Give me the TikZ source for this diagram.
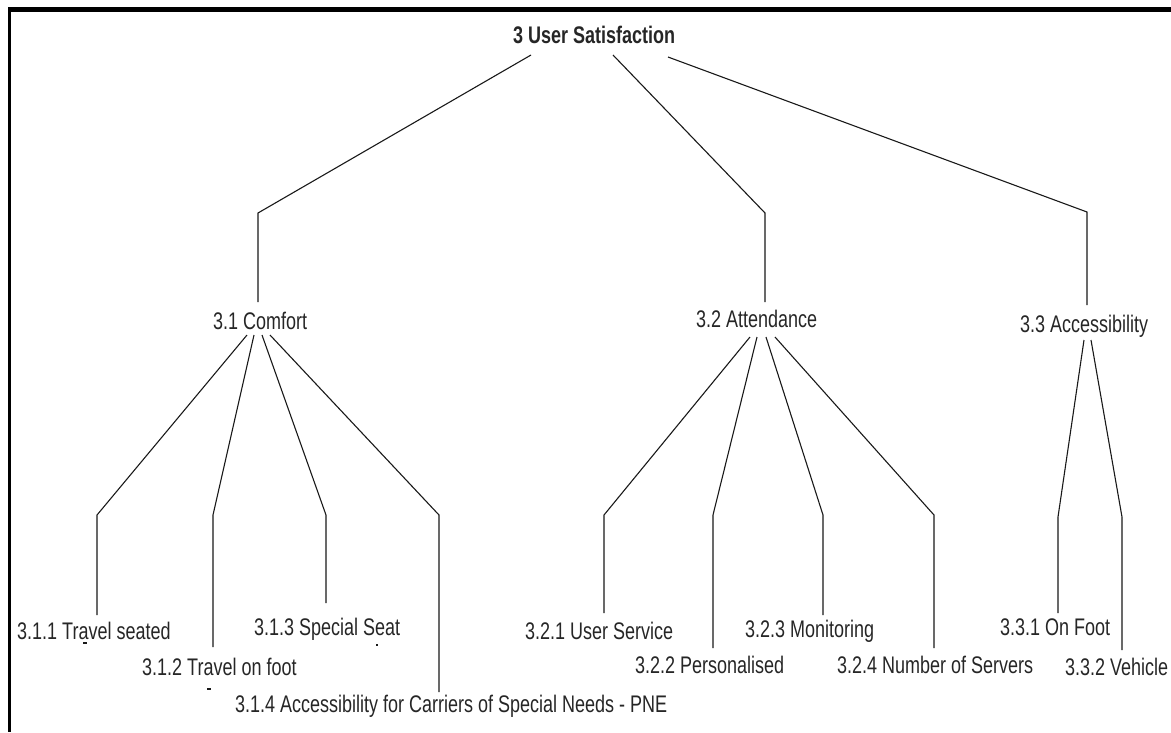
\documentclass[tikz,border=0pt]{standalone}
\usepackage{fontspec}
\setmainfont{Liberation Sans}
\begin{document}
\begin{tikzpicture}[x=1pt,y=-1pt,
  lbl/.style={inner sep=0pt, anchor=base west, xscale=0.75, font=\fontsize{24}{28}\selectfont, text=black!85},
  edge/.style={line width=1.1pt, draw=black!90},
  frame/.style={fill=black, draw=none}]
\useasboundingbox (0,0) rectangle (1171,732);
% frame
\fill[frame] (8,7) rectangle (1171,12);
\fill[frame] (8,7) rectangle (11,732);
% nodes
\node[lbl] (root) at (513,43) {\textbf{3 User Satisfaction}};
\node[lbl] (c1) at (213,329) {3.1 Comfort};
\node[lbl] (c2) at (696,327) {3.2 Attendance};
\node[lbl] (c3) at (1020,332) {3.3 Accessibility};
\node[lbl] (l11) at (17,639) {3.1.1 Travel seated};
\node[lbl] (l12) at (142,675) {3.1.2 Travel on foot};
\node[lbl] (l13) at (254,635) {3.1.3 Special Seat};
\node[lbl] (l14) at (235,712) {3.1.4 Accessibility for Carriers of Special Needs - PNE};
\node[lbl] (l21) at (525,639) {3.2.1 User Service};
\node[lbl] (l22) at (635,673) {3.2.2 Personalised};
\node[lbl] (l23) at (745,637) {3.2.3 Monitoring};
\node[lbl] (l24) at (837,673) {3.2.4 Number of Servers};
\node[lbl] (l31) at (1000,635) {3.3.1 On Foot};
\node[lbl] (l32) at (1065,675) {3.3.2 Vehicle};
% level 1 connectors
\coordinate (s1) at (531,55);  \coordinate (k1) at (258,213);  \coordinate (e1) at (258,302);
\coordinate (s2) at (613,55);  \coordinate (k2) at (765,213);  \coordinate (e2) at (765,302);
\coordinate (s3) at (668,57);  \coordinate (k3) at (1087,212); \coordinate (e3) at (1087,305);
\draw[edge] (s1) -- (k1) -- (e1);
\draw[edge] (s2) -- (k2) -- (e2);
\draw[edge] (s3) -- (k3) -- (e3);
% comfort children
\coordinate (s11) at (247,335); \coordinate (k11) at (97,515);  \coordinate (e11) at (97,615);
\coordinate (s12) at (254,335); \coordinate (k12) at (213,515); \coordinate (e12) at (213,647);
\coordinate (s13) at (262,335); \coordinate (k13) at (326,515); \coordinate (e13) at (326,603);
\coordinate (s14) at (270,335); \coordinate (k14) at (439,515); \coordinate (e14) at (439,692);
\draw[edge] (s11) -- (k11) -- (e11);
\draw[edge] (s12) -- (k12) -- (e12);
\draw[edge] (s13) -- (k13) -- (e13);
\draw[edge] (s14) -- (k14) -- (e14);
% attendance children
\coordinate (s21) at (750,337); \coordinate (k21) at (604,515); \coordinate (e21) at (604,613);
\coordinate (s22) at (757,337); \coordinate (k22) at (713,515); \coordinate (e22) at (713,648);
\coordinate (s23) at (766,337); \coordinate (k23) at (823,515); \coordinate (e23) at (823,615);
\coordinate (s24) at (775,337); \coordinate (k24) at (934,515); \coordinate (e24) at (934,648);
\draw[edge] (s21) -- (k21) -- (e21);
\draw[edge] (s22) -- (k22) -- (e22);
\draw[edge] (s23) -- (k23) -- (e23);
\draw[edge] (s24) -- (k24) -- (e24);
% accessibility children
\coordinate (s31) at (1084,340); \coordinate (k31) at (1058,517); \coordinate (e31) at (1058,613);
\coordinate (s32) at (1091,340); \coordinate (k32) at (1122,517); \coordinate (e32) at (1122,650);
\draw[edge] (s31) -- (k31) -- (e31);
\draw[edge] (s32) -- (k32) -- (e32);
% small marks
\draw[edge] (83,643) -- (87,643);
\draw[edge] (207,689) -- (211,689);
\draw[edge] (377,644) -- (377,646);
\end{tikzpicture}
\end{document}
